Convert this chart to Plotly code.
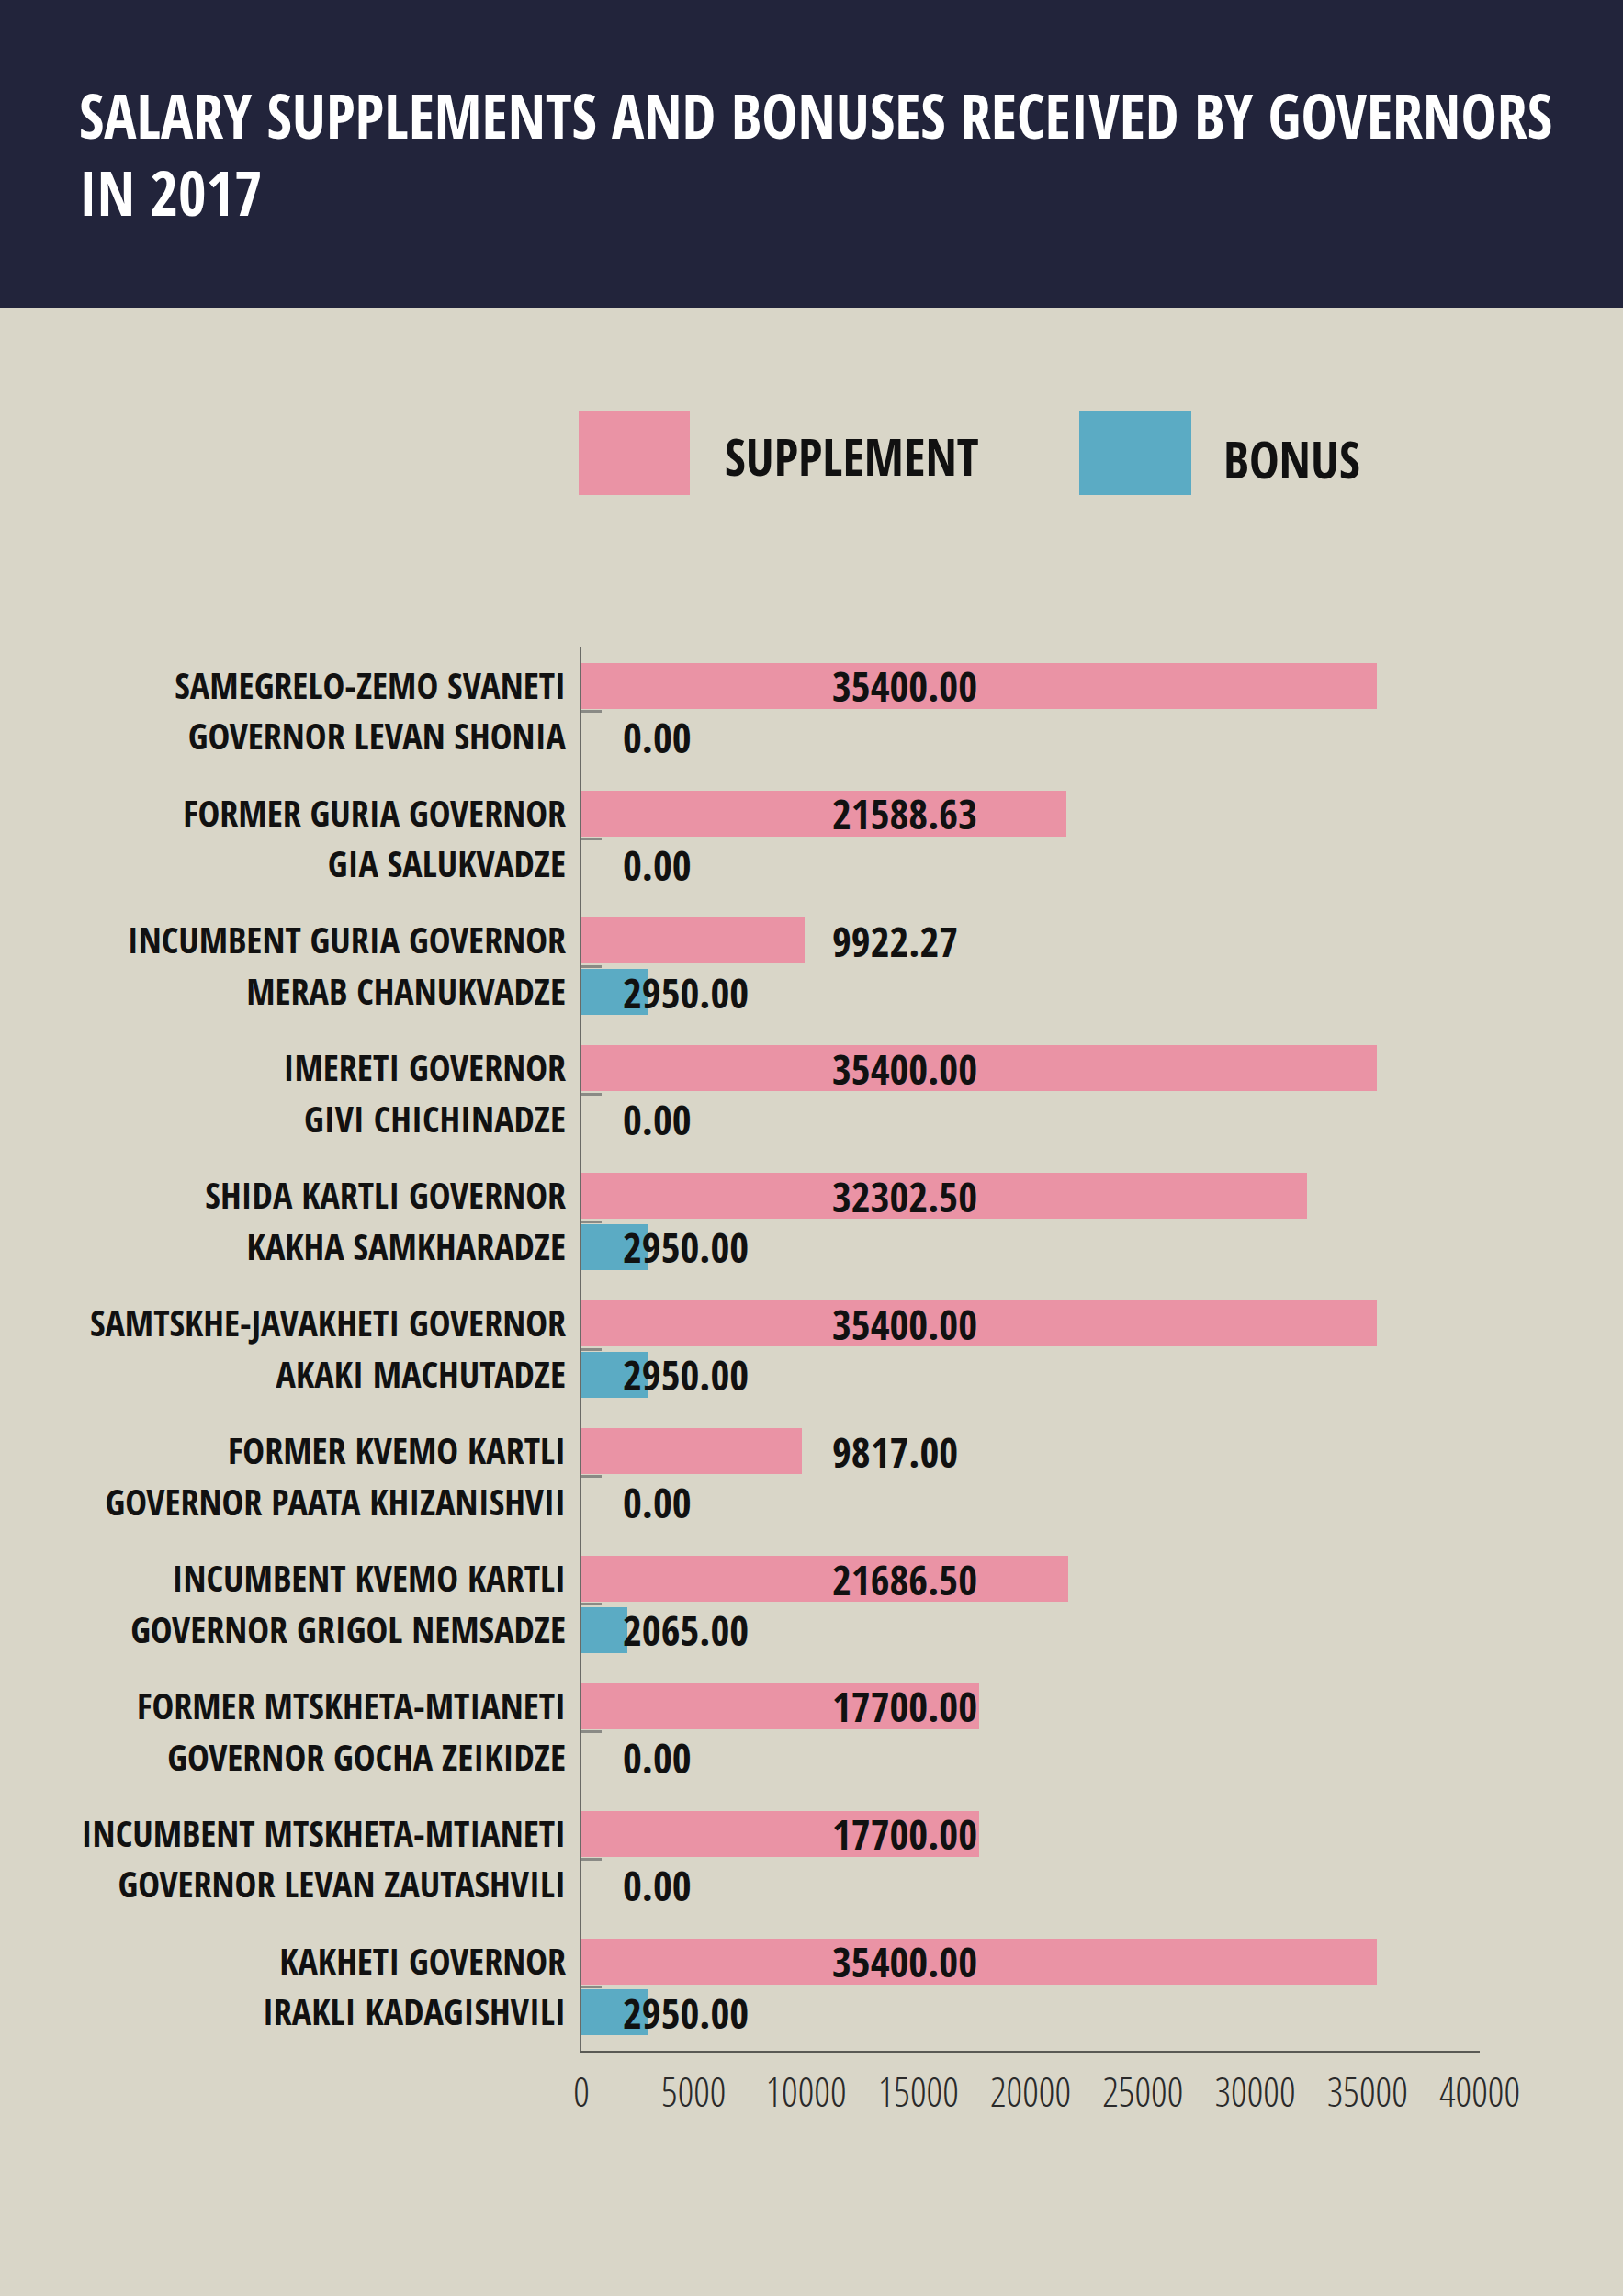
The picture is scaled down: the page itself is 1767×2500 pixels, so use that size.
import plotly.graph_objects as go

# governor names, split on the two lines shown next to each pair of bars
name_line1 = ["SAMEGRELO-ZEMO SVANETI", "FORMER GURIA GOVERNOR", "INCUMBENT GURIA GOVERNOR",
              "IMERETI GOVERNOR", "SHIDA KARTLI GOVERNOR", "SAMTSKHE-JAVAKHETI GOVERNOR",
              "FORMER KVEMO KARTLI", "INCUMBENT KVEMO KARTLI", "FORMER MTSKHETA-MTIANETI",
              "INCUMBENT MTSKHETA-MTIANETI", "KAKHETI GOVERNOR"]
name_line2 = ["GOVERNOR LEVAN SHONIA", "GIA SALUKVADZE", "MERAB CHANUKVADZE",
              "GIVI CHICHINADZE", "KAKHA SAMKHARADZE", "AKAKI MACHUTADZE",
              "GOVERNOR PAATA KHIZANISHVII", "GOVERNOR GRIGOL NEMSADZE", "GOVERNOR GOCHA ZEIKIDZE",
              "GOVERNOR LEVAN ZAUTASHVILI", "IRAKLI KADAGISHVILI"]
supplement = [35400.00, 21588.63, 9922.27, 35400.00, 32302.50, 35400.00,
              9817.00, 21686.50, 17700.00, 17700.00, 35400.00]
bonus = [0.00, 0.00, 2950.00, 0.00, 2950.00, 2950.00,
         0.00, 2065.00, 0.00, 0.00, 2950.00]
x_ticks = list(range(0, 40001, 5000))

W, H = 1767, 2500
ML, MR, MT, MB = 633, 156, 705, 267
PINK = "#ea93a5"
BLUE = "#5babc4"
NAVY = "#22243b"
BG = "#d9d6c8"
INK = "#111111"
FONT = "Open Sans Condensed, Roboto Condensed, sans-serif"
FONT_LIGHT = "Open Sans Condensed Light, Roboto Condensed Light, Roboto Condensed, sans-serif"

def px_x(p):
    return (p - ML) / (W - ML - MR)

def px_y(p):
    return (H - MB - p) / (H - MT - MB)

OFF = 0.2  # half distance between the two bars of a pair
idx = list(range(len(supplement)))
y_sup = [i - OFF for i in idx]
y_bon = [i + OFF for i in idx]

fig = go.Figure()
fig.add_trace(go.Bar(x=supplement, y=y_sup, orientation="h", width=0.36,
                     marker=dict(color=PINK, line=dict(width=0)), name="SUPPLEMENT"))
fig.add_trace(go.Bar(x=bonus, y=y_bon, orientation="h", width=0.36,
                     marker=dict(color=BLUE, line=dict(width=0)), name="BONUS"))

# value labels sit at a fixed column, not at bar ends
val_font = dict(family=FONT, size=45, color=INK, weight="bold")
anns = []
for yy, v in zip(y_sup, supplement):
    anns.append(dict(x=11090, y=yy, xref="x", yref="y", text=f"{v:.2f}", showarrow=False,
                     xanchor="left", yanchor="middle", font=val_font))
for yy, v in zip(y_bon, bonus):
    anns.append(dict(x=1760, y=yy, xref="x", yref="y", text=f"{v:.2f}", showarrow=False,
                     xanchor="left", yanchor="middle", font=val_font))

# title
title_font = dict(family=FONT, size=66, color="white", weight="bold")
anns.append(dict(x=px_x(84), y=px_y(125), xref="paper", yref="paper", showarrow=False,
                 text="SALARY SUPPLEMENTS AND BONUSES RECEIVED BY GOVERNORS",
                 xanchor="left", yanchor="middle", font=title_font))
anns.append(dict(x=px_x(84), y=px_y(209), xref="paper", yref="paper", showarrow=False,
                 text="IN 2017", xanchor="left", yanchor="middle", font=title_font))
# legend
leg_font = dict(family=FONT, size=55, color=INK, weight="bold")
anns.append(dict(x=px_x(787), y=px_y(497), xref="paper", yref="paper", showarrow=False,
                 text="SUPPLEMENT", xanchor="left", yanchor="middle", font=leg_font))
anns.append(dict(x=px_x(1330), y=px_y(500), xref="paper", yref="paper", showarrow=False,
                 text="BONUS", xanchor="left", yanchor="middle", font=leg_font))

shapes = [
    dict(type="rect", xref="paper", yref="paper", x0=px_x(-20), x1=px_x(W + 20),
         y0=px_y(335), y1=px_y(-20), fillcolor=NAVY, line=dict(width=0), layer="below"),
    dict(type="rect", xref="paper", yref="paper", x0=px_x(630), x1=px_x(751),
         y0=px_y(539), y1=px_y(447), fillcolor=PINK, line=dict(width=0)),
    dict(type="rect", xref="paper", yref="paper", x0=px_x(1175), x1=px_x(1297),
         y0=px_y(539), y1=px_y(447), fillcolor=BLUE, line=dict(width=0)),
]

fig.update_layout(
    width=W, height=H,
    margin=dict(l=ML, r=MR, t=MT, b=MB, autoexpand=False),
    paper_bgcolor=BG, plot_bgcolor=BG,
    showlegend=False,
    bargap=0,
    annotations=anns,
    shapes=shapes,
)
fig.update_xaxes(range=[0, 40000], tickvals=x_ticks, ticktext=[str(t) for t in x_ticks],
                 showgrid=False, zeroline=False, showline=True, linecolor="#5a5a55",
                 linewidth=2, ticks="", ticklabelstandoff=6, automargin=False,
                 tickfont=dict(family=FONT_LIGHT, size=44, color="#2a2a2a", weight=300))
fig.update_yaxes(range=[len(idx) - 0.5, -0.5], tickvals=y_sup + y_bon,
                 ticktext=name_line1 + name_line2,
                 showgrid=False, zeroline=False, showline=True, linecolor="#6a6a66",
                 linewidth=1, ticks="", ticklabelstandoff=8, automargin=False,
                 tickfont=dict(family=FONT, size=40, color=INK, weight="bold"),
                 minor=dict(tickvals=idx, ticks="inside", ticklen=22, tickcolor="#8a8a85",
                            tickwidth=3))

# drop the browser's default page margin so the figure sits at the top-left corner
fig.write_html("out.html", config={"displayModeBar": False},
               post_script="document.body.style.margin = '0';")
